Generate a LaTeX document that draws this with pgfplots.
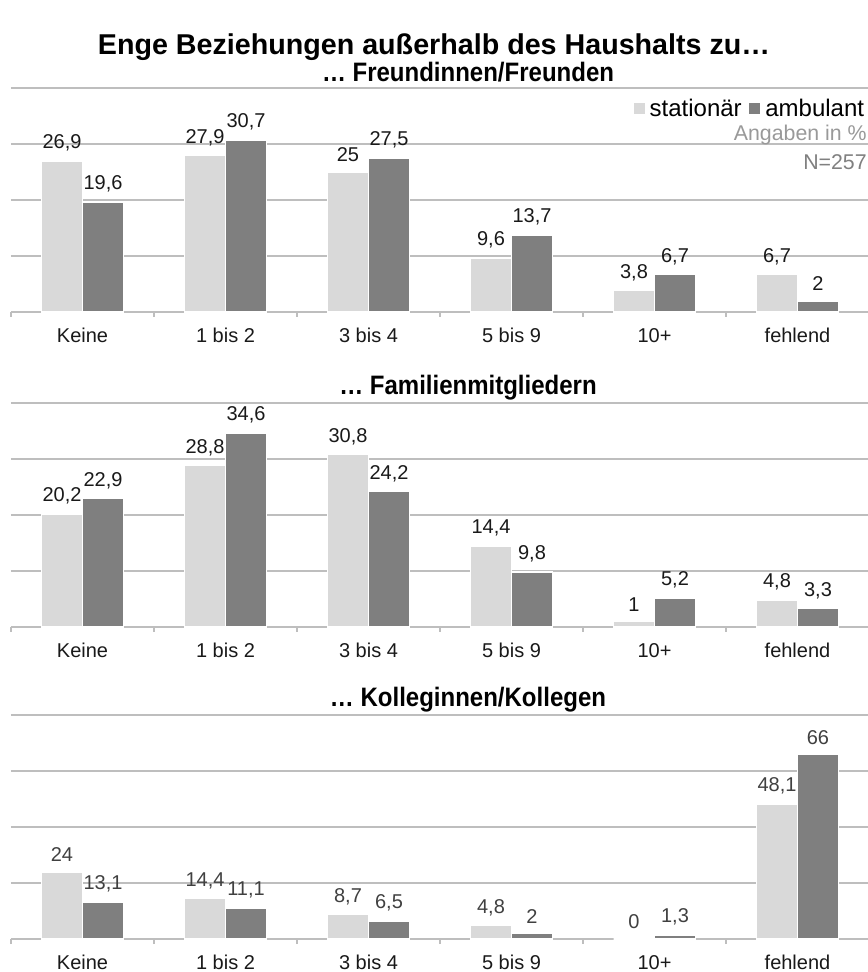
\documentclass[border=0pt]{standalone}
\usepackage{fontspec}
\setmainfont{Liberation Sans}
\newfontfamily\subfont{Liberation Sans}[FakeStretch=0.9]
\usepackage{pgfplots}
\usepackage{pgfplotstable}
\pgfplotsset{compat=1.18}

\definecolor{stat}{HTML}{D9D9D9}
\definecolor{amb}{HTML}{7F7F7F}
\definecolor{gridc}{HTML}{BEBEBE}
\definecolor{note}{HTML}{999999}
\definecolor{noteN}{HTML}{808080}

% x = category index, stat = stationär, amb = ambulant (percent)
\pgfplotstableread{
x stat amb
0 26.9 19.6
1 27.9 30.7
2 25   27.5
3 9.6  13.7
4 3.8  6.7
5 6.7  2
}\freunde
\pgfplotstableread{
x stat amb
0 20.2 22.9
1 28.8 34.6
2 30.8 24.2
3 14.4 9.8
4 1    5.2
5 4.8  3.3
}\familie
\pgfplotstableread{
x stat amb
0 24   13.1
1 14.4 11.1
2 8.7  6.5
3 4.8  2
4 0    1.3
5 48.1 66
}\kollegen

\pgfkeys{/pgf/number format/.cd, use comma, assume math mode=true}

\pgfplotsset{
  panel/.style={
    scale only axis, width=643.5pt, height=168pt,
    xmin=-0.5, xmax=5.5, ymin=0,
    clip=false,
    axis x line*=bottom, axis y line*=left,
    y axis line style={draw=none},
    x axis line style={draw=gridc, line width=1.1pt},
    ymajorgrids, grid style={draw=gridc, line width=1.1pt},
    yticklabels={}, ytick style={draw=none},
    xtick={0,...,5},
    xticklabels={Keine,1 bis 2,3 bis 4,5 bis 9,10+,fehlend},
    minor xtick={-0.5,0.5,1.5,2.5,3.5,4.5,5.5},
    major tick length=0pt, minor tick length=3.75pt,
    tick align=outside,
    minor tick style={draw=gridc, line width=0.9pt},
    xticklabel style={font=\fontsize{15}{18}\selectfont, text=black!90,
      inner sep=0pt, text height=11pt, text depth=0pt, yshift=-11.5pt},
    ybar=0pt, bar width=30.75pt,
    every axis plot/.append style={draw=white, line width=1.1pt},
    nodes near coords,
    nodes near coords style={font=\fontsize{15}{18}\selectfont, text=black!90, yshift=3.5pt},
  },
}

\begin{document}
\begin{tikzpicture}
\useasboundingbox (0,0) rectangle (651pt,729pt);

\node[font=\bfseries\fontsize{21.5}{24}\selectfont] at (325.5pt,694pt)
  {Enge Beziehungen außerhalb des Haushalts zu…};

% Freundinnen/Freunden
\node[font=\subfont\bfseries\fontsize{20}{22}\selectfont] at (351pt,675pt) {… Freundinnen/Freunden};
\begin{axis}[panel, at={(8.25pt,495pt)}, anchor=south west,
    ymax=40, ytick={10,20,30,40},
    legend style={at={(rel axis cs:1,1)}, anchor=north east, xshift=-1.5pt, yshift=-6pt,
      draw=none, fill=none, inner sep=0pt,
      font=\fontsize{18}{20}\selectfont, legend columns=-1,
      /tikz/every odd column/.append style={column sep=1pt},
      /tikz/every even column/.append style={column sep=3pt}},
    legend image code/.code={\draw[#1, line width=0.7pt] (0pt,-4.5pt) rectangle (9pt,4.5pt);},
  ]
  \addplot[fill=stat] table[x=x, y=stat] {\freunde};
  \addplot[fill=amb] table[x=x, y=amb] {\freunde};
  \legend{stationär, ambulant}
  \node[anchor=east, text=note, font=\fontsize{16}{18}\selectfont, inner sep=0pt]
    at (rel axis cs:1,0.792) [xshift=-1.5pt] {Angaben in \%};
  \node[anchor=east, text=noteN, font=\fontsize{16}{18}\selectfont, inner sep=0pt]
    at (rel axis cs:1,0.670) [xshift=-1.5pt] {N=257};
\end{axis}

% Familienmitgliedern
\node[font=\subfont\bfseries\fontsize{20}{22}\selectfont] at (351pt,438pt) {… Familienmitgliedern};
\begin{axis}[panel, at={(8.25pt,258.75pt)}, anchor=south west,
    ymax=40, ytick={10,20,30,40}]
  \addplot[fill=stat] table[x=x, y=stat] {\familie};
  \addplot[fill=amb] table[x=x, y=amb] {\familie};
\end{axis}

% Kolleginnen/Kollegen
\node[font=\subfont\bfseries\fontsize{20}{22}\selectfont] at (351pt,204pt) {… Kolleginnen/Kollegen};
\begin{axis}[panel, at={(8.25pt,24.75pt)}, anchor=south west,
    ymax=80, ytick={20,40,60,80},
    nodes near coords style={text=black!75}]
  \addplot[fill=stat] table[x=x, y=stat] {\kollegen};
  \addplot[fill=amb] table[x=x, y=amb] {\kollegen};
\end{axis}
\end{tikzpicture}
\end{document}
